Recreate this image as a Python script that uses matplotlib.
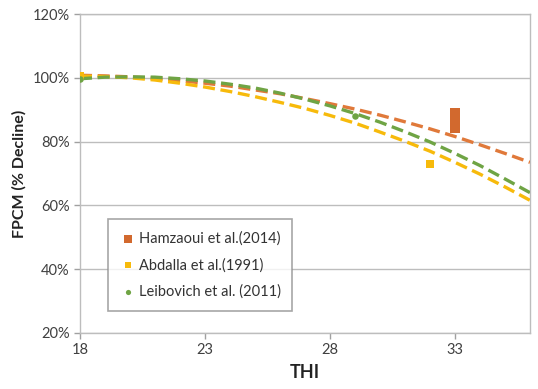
import matplotlib.pyplot as plt
import numpy as np

plt.rcParams['font.family'] = ['Lato', 'DejaVu Sans']

# trend curves (THI -> % of max FPCM)
thi = [18, 19, 20, 21, 22, 23, 24, 25, 26, 27, 28, 29, 30, 31, 32, 33, 34, 35, 36]
trend_hamzaoui = [100.8, 100.6, 100.3, 99.8, 99.1, 98.3, 97.4, 96.2, 95.0, 93.5,
                  91.9, 90.2, 88.3, 86.2, 84.0, 81.6, 79.0, 76.3, 73.5]
trend_abdalla = [100.5, 100.4, 100.0, 99.3, 98.3, 97.1, 95.7, 94.1, 92.3, 90.4,
                 88.2, 85.8, 83.0, 80.1, 77.0, 73.5, 69.8, 65.8, 61.6]
trend_leibovich = [99.7, 100.2, 100.3, 100.2, 99.7, 99.0, 98.0, 96.8, 95.2, 93.3,
                   91.2, 88.8, 86.1, 83.1, 79.9, 76.3, 72.5, 68.3, 64.0]

# observed points
ham_x = [33, 33, 33]
ham_y = [88.9, 87.0, 84.2]
abd_x = [18, 32]
abd_y = [100.5, 72.9]
lei_x = [18, 29]
lei_y = [99.7, 88.1]

c_orange = '#D2692E'
c_orange_line = '#E0793A'
c_yellow = '#F7BA0B'
c_green = '#6FA444'
c_grid = '#BDBDBD'

fig = plt.figure(figsize=(5.38, 3.89), dpi=100)
ax = fig.add_axes([0.1487, 0.144, 0.8363, 0.820])

dash = (0, (3.6, 1.7))
ax.plot(thi, trend_hamzaoui, color=c_orange_line, lw=2.4, ls=dash, zorder=3)
ax.plot(thi, trend_abdalla, color=c_yellow, lw=2.4, ls=dash, zorder=3)
ax.plot(thi, trend_leibovich, color=c_green, lw=2.4, ls=dash, zorder=4)

ax.scatter(ham_x, ham_y, marker='s', s=42, color=c_orange, lw=0, zorder=5,
           label='Hamzaoui et al.(2014)')
ax.scatter(abd_x, abd_y, marker='s', s=30, color=c_yellow, lw=0, zorder=5,
           label='Abdalla et al.(1991)')
ax.scatter(lei_x, lei_y, marker='o', s=22, color=c_green, lw=0, zorder=5,
           label='Leibovich et al. (2011)')

ax.set_xlim(18, 36)
ax.set_ylim(20, 120)
ax.set_xticks([18, 23, 28, 33])
ax.set_yticks([20, 40, 60, 80, 100, 120])
ax.set_yticklabels(['%d%%' % v for v in [20, 40, 60, 80, 100, 120]])
ax.grid(axis='y', color=c_grid, lw=1)
ax.set_axisbelow(True)
for s in ax.spines.values():
    s.set_color(c_grid)
    s.set_linewidth(1)
ax.tick_params(colors='#A0A0A0', length=4, width=1, labelsize=10.5,
               labelcolor='#404040')

ax.set_xlabel('THI', fontsize=13, fontweight='bold', color='#222222', labelpad=5)
ax.set_ylabel('FPCM (% Decline)', fontsize=11.5, fontweight='bold',
              color='#222222', labelpad=4)

leg = ax.legend(loc='lower left', bbox_to_anchor=(0.062, 0.07), fontsize=10.5,
                frameon=True, fancybox=False, edgecolor='#909090',
                borderpad=0.8, labelspacing=0.85, handletextpad=0.1,
                handlelength=1.2, markerscale=0.8, borderaxespad=0)
leg.get_frame().set_linewidth(1.2)
for t in leg.get_texts():
    t.set_color('#333333')

fig.savefig('out.png', dpi=100)
